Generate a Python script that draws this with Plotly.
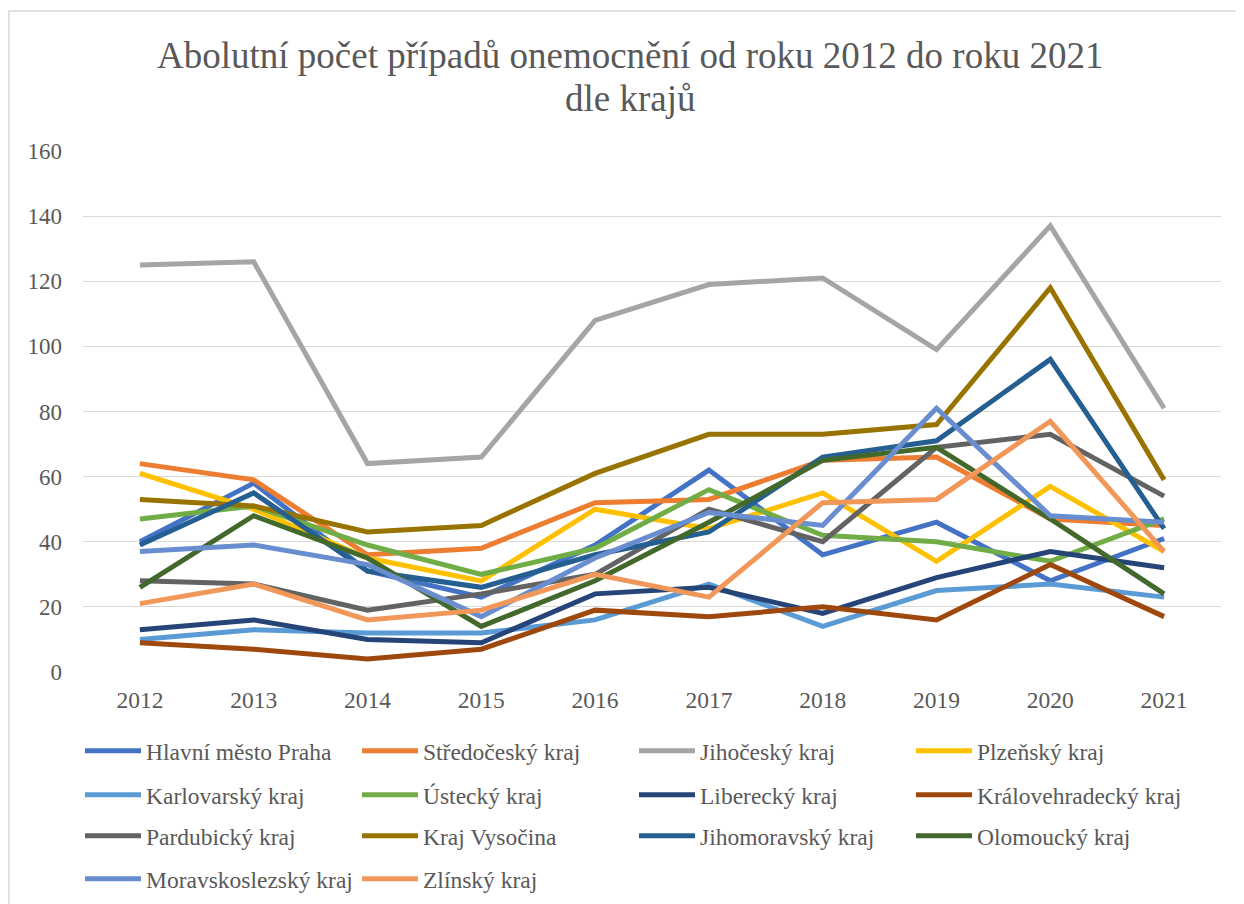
import plotly.graph_objects as go

years = [2012, 2013, 2014, 2015, 2016, 2017, 2018, 2019, 2020, 2021]
year_labels = [str(y) for y in years]

regions = ["Hlavní město Praha", "Středočeský kraj", "Jihočeský kraj", "Plzeňský kraj",
           "Karlovarský kraj", "Ústecký kraj", "Liberecký kraj", "Královehradecký kraj",
           "Pardubický kraj", "Kraj Vysočina", "Jihomoravský kraj", "Olomoucký kraj",
           "Moravskoslezský kraj", "Zlínský kraj"]

praha = [40, 58, 31, 23, 39, 62, 36, 46, 28, 41]
stredocesky = [64, 59, 36, 38, 52, 53, 65, 66, 47, 45]
jihocesky = [125, 126, 64, 66, 108, 119, 121, 99, 137, 81]
plzensky = [61, 50, 35, 28, 50, 44, 55, 34, 57, 37]
karlovarsky = [10, 13, 12, 12, 16, 27, 14, 25, 27, 23]
ustecky = [47, 51, 39, 30, 38, 56, 42, 40, 34, 47]
liberecky = [13, 16, 10, 9, 24, 26, 18, 29, 37, 32]
kralovehradecky = [9, 7, 4, 7, 19, 17, 20, 16, 33, 17]
pardubicky = [28, 27, 19, 24, 30, 50, 40, 69, 73, 54]
vysocina = [53, 51, 43, 45, 61, 73, 73, 76, 118, 59]
jihomoravsky = [39, 55, 31, 26, 36, 43, 66, 71, 96, 44]
olomoucky = [26, 48, 35, 14, 28, 46, 65, 69, 47, 24]
moravskoslezsky = [37, 39, 33, 17, 35, 49, 45, 81, 48, 46]
zlinsky = [21, 27, 16, 19, 30, 23, 52, 53, 77, 37]

series = [praha, stredocesky, jihocesky, plzensky, karlovarsky, ustecky, liberecky,
          kralovehradecky, pardubicky, vysocina, jihomoravsky, olomoucky,
          moravskoslezsky, zlinsky]

colors = ["#4472C4", "#ED7D31", "#A5A5A5", "#FFC000", "#5B9BD5", "#70AD47", "#264478",
          "#9E480E", "#636363", "#997300", "#255E91", "#43682B", "#698ED0", "#F1975A"]

title_lines = ["Abolutní počet případů onemocnění od roku 2012 do roku 2021", "dle krajů"]
y_ticks = [0, 20, 40, 60, 80, 100, 120, 140, 160]

FONT = "Liberation Serif, Times New Roman, serif"
TXT = "#595959"

OFF = 8  # default body margin of the html page
W, H = 1244 - OFF, 904 - OFF
# plot area in reference (screen) pixels
L, R, T, B = 83, 1221, 151, 672


def py(pix):
    return (B - pix) / (B - T)


def px(pix):
    return (pix - L) / (R - L)


fig = go.Figure()
legend_names = ["legend", "legend2", "legend3", "legend4"]
for i, (name, vals, col) in enumerate(zip(regions, series, colors)):
    fig.add_trace(go.Scatter(
        x=year_labels, y=vals, name=name, mode="lines",
        line=dict(color=col, width=5),
        legend=legend_names[i // 4],
    ))

row_y = [751, 795, 836, 879]
legend_common = dict(
    orientation="h", xanchor="left", yanchor="middle",
    x=px(80), entrywidth=206, entrywidthmode="pixels",
    font=dict(family=FONT, size=23.5, color=TXT),
    bgcolor="rgba(0,0,0,0)", itemwidth=56, traceorder="normal",
)
layout_legends = {}
for k, ln in enumerate(legend_names):
    layout_legends[ln] = dict(legend_common, y=py(row_y[k]))

title_y = [55, 98]
annotations = [
    dict(text=t, xref="paper", yref="paper", x=px(630), y=py(yy),
         xanchor="center", yanchor="middle", showarrow=False,
         font=dict(family=FONT, size=37, color=TXT))
    for t, yy in zip(title_lines, title_y)
]

fig.update_layout(
    width=W, height=H,
    margin=dict(l=L - OFF, r=W - (R - OFF), t=T - OFF, b=H - (B - OFF), autoexpand=False),
    paper_bgcolor="white", plot_bgcolor="white",
    xaxis=dict(
        type="category", categoryarray=year_labels,
        range=[-0.5, 9.5], showgrid=False, showline=False, zeroline=False,
        ticks="", tickfont=dict(family=FONT, size=23.5, color=TXT),
        ticklabelstandoff=11,
    ),
    yaxis=dict(
        range=[0, 160], tickvals=y_ticks, showgrid=True, gridcolor="#D9D9D9",
        gridwidth=1.3, zeroline=False, showline=False, ticks="",
        tickfont=dict(family=FONT, size=23, color=TXT), ticklabelstandoff=20,
    ),
    showlegend=True,
    annotations=annotations,
    shapes=[dict(type="rect", xref="paper", yref="paper",
                 x0=px(9), x1=px(1300), y0=py(1000), y1=py(11),
                 line=dict(color="#D9D9D9", width=1.5), layer="below")],
    **layout_legends,
)

fig.write_html("out.html")
